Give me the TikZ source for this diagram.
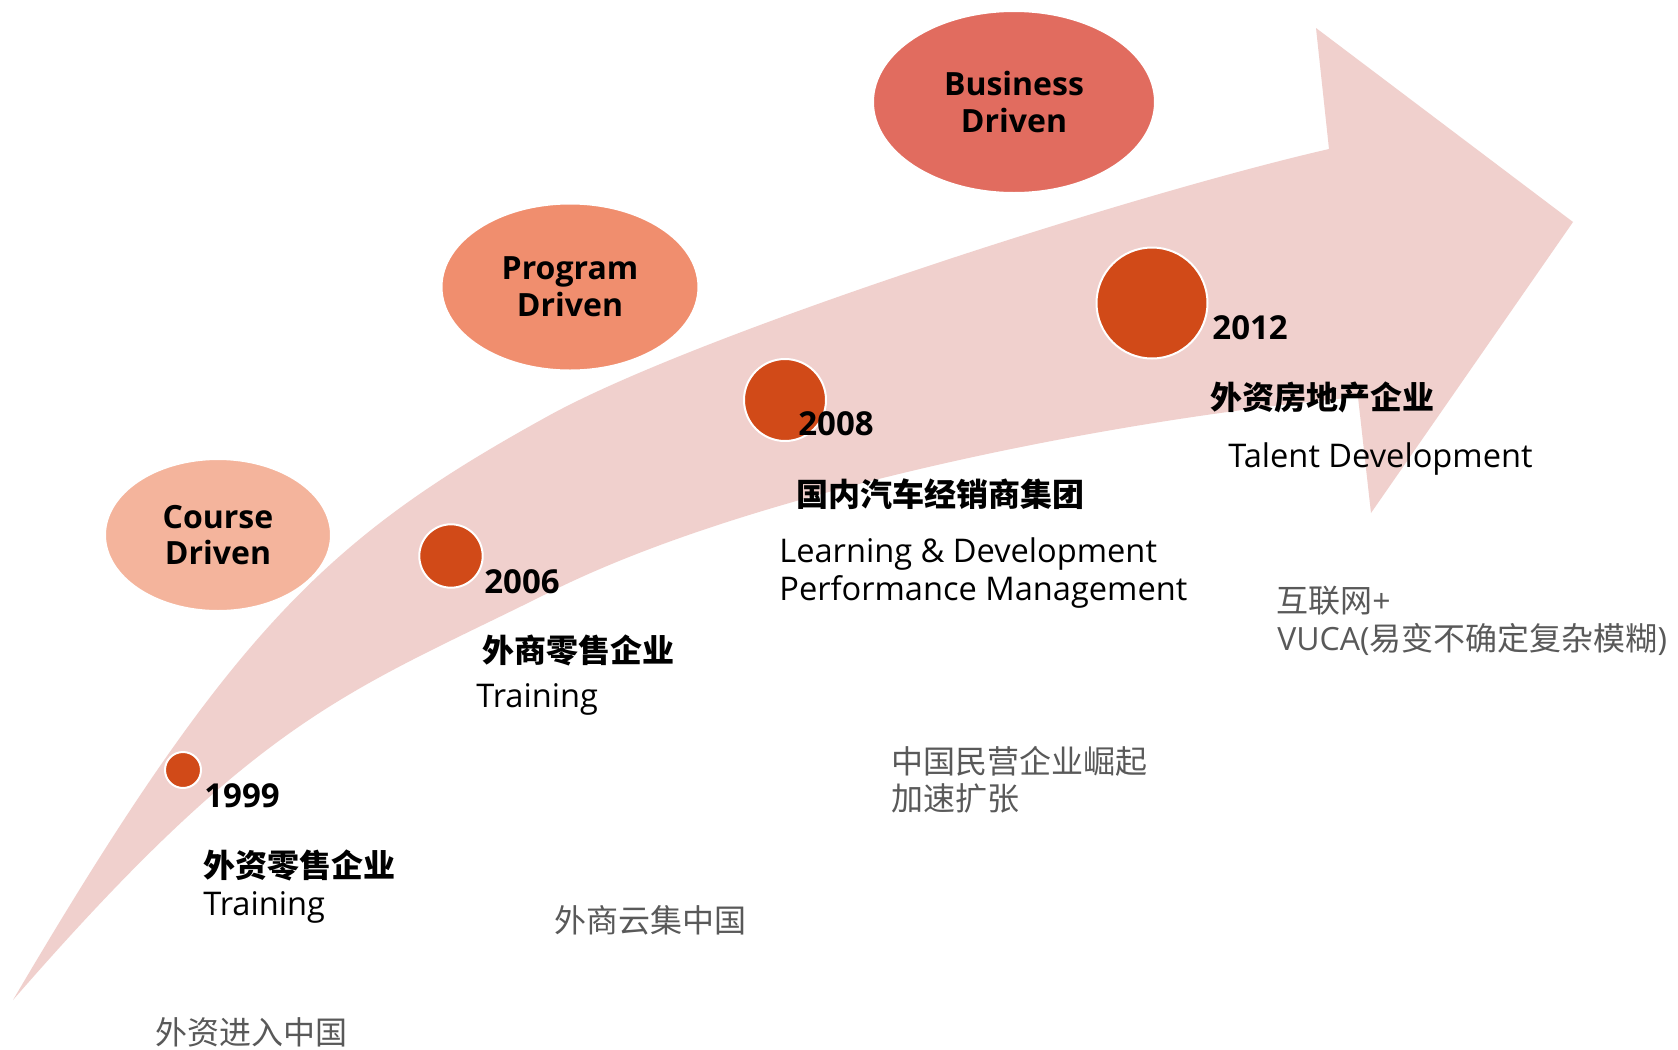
\documentclass[tikz,border=0pt]{standalone}
\usepackage{fontspec}
\setmainfont{Open Sans}
\newfontfamily\cjk{Noto Sans CJK SC}
\usetikzlibrary{shapes.geometric}
\definecolor{bandpink}{RGB}{240,208,205}
\definecolor{bizred}{RGB}{225,108,95}
\definecolor{progorange}{RGB}{240,142,110}
\definecolor{coursepeach}{RGB}{244,180,156}
\definecolor{dotred}{RGB}{209,74,24}
\definecolor{graytext}{RGB}{89,89,89}
\tikzset{
  stage/.style={ellipse, draw=white, line width=1pt, align=center, inner sep=0pt,
    font=\bfseries\fontsize{16}{18.4}\selectfont},
  dot/.style={circle, fill=dotred, draw=white, line width=1pt, inner sep=0pt},
  year/.style={anchor=base west, inner sep=0pt, font=\bfseries\fontsize{16.5}{20}\selectfont},
  firm/.style={anchor=base west, inner sep=0pt, font=\cjk\bfseries\fontsize{16}{20}\selectfont},
  desc/.style={anchor=base west, inner sep=0pt, font=\fontsize{16.3}{19}\selectfont},
  era/.style={anchor=base west, inner sep=0pt, text=graytext, font=\cjk\fontsize{16}{19}\selectfont},
}
\begin{document}
\begin{tikzpicture}[x=0.5pt,y=-0.5pt]
\useasboundingbox (0,0) rectangle (1678,1050);
\fill[white] (0,0) rectangle (1678,1050);
% curved arrow band
\coordinate (tail) at (13,1000);
\coordinate (upmid) at (550,415);
\coordinate (upshoulder) at (1329,149);
\coordinate (topbarb) at (1316,28);
\coordinate (tip) at (1573,222);
\coordinate (botbarb) at (1371,513);
\coordinate (lowshoulder) at (1358,397);
\coordinate (lowmid) at (550,592);
\fill[bandpink] (tail)
  .. controls (233,626) and (330,536) .. (upmid)
  .. controls (700,333) and (1129,195) .. (upshoulder)
  -- (topbarb) -- (tip) -- (botbarb) -- (lowshoulder)
  .. controls (1108,419.5) and (750,492) .. (lowmid)
  .. controls (350,692) and (263,712.5) .. (tail)
  -- cycle;
% stage ellipses
\node[stage, fill=coursepeach, minimum width=113pt, minimum height=76pt] (course) at (218,535) {Course\\Driven};
\node[stage, fill=progorange, minimum width=128.5pt, minimum height=83.5pt] (program) at (570,287) {Program\\Driven};
\node[stage, fill=bizred, minimum width=141pt, minimum height=91pt] (business) at (1014,102) {Business\\Driven};
% milestone dots
\node[dot, minimum size=18pt] (d1999) at (183,770) {};
\node[dot, minimum size=31.7pt] (d2006) at (451,556) {};
\node[dot, minimum size=41pt] (d2008) at (785,400) {};
\node[dot, minimum size=55.5pt] (d2012) at (1152,303) {};
% 1999
\node[year] (y1999) at (204,807) {1999};
\node[firm] (f1999) at (203,877) {外资零售企业};
\node[desc] (t1999) at (203,915) {Training};
\node[era] (e1999) at (155,1044) {外资进入中国};
% 2006
\node[year] (y2006) at (484,593) {2006};
\node[firm] (f2006) at (482,662) {外商零售企业};
\node[desc] (t2006) at (476,707) {Training};
\node[era] (e2006) at (554,932) {外商云集中国};
% 2008
\node[year] (y2008) at (798,435) {2008};
\node[firm] (f2008) at (796,506) {国内汽车经销商集团};
\node[desc] (t2008a) at (779,562) {Learning \& Development};
\node[desc] (t2008b) at (779,600) {Performance Management};
\node[era] (e2008a) at (891,773) {中国民营企业崛起};
\node[era] (e2008b) at (891,810) {加速扩张};
% 2012
\node[year] (y2012) at (1212,339) {2012};
\node[firm] (f2012) at (1210,409) {外资房地产企业};
\node[desc] (t2012) at (1228,467) {Talent Development};
\node[era] (e2012a) at (1276,612) {互联网{\rmfamily +}};
\node[era] (e2012b) at (1277,650) {{\rmfamily VUCA(}易变不确定复杂模糊{\rmfamily )}};
\end{tikzpicture}
\end{document}
